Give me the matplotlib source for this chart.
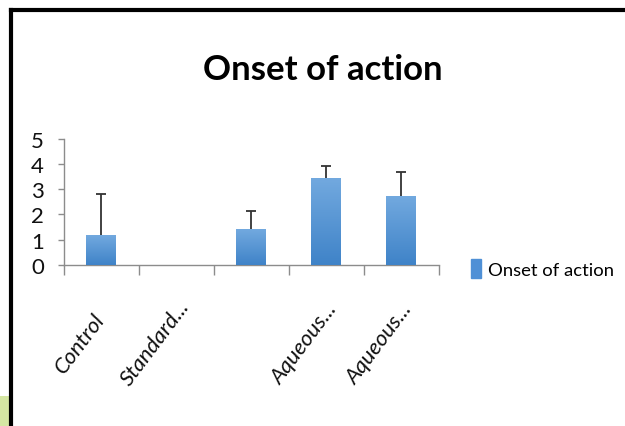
import numpy as np
import matplotlib
matplotlib.use("Agg")
import matplotlib.pyplot as plt
from matplotlib.lines import Line2D
from matplotlib.patches import Rectangle
from matplotlib.transforms import ScaledTranslation

plt.rcParams['font.family'] = ['Lato', 'DejaVu Sans']

# data
categories = ["Control", "Standard...", "", "Aqueous...", "Aqueous..."]
onset = [1.17, 0, 1.41, 3.44, 2.74]
onset_err = [1.66, 0, 0.73, 0.50, 0.93]
y_ticks = [0, 1, 2, 3, 4, 5]
series_name = "Onset of action"

# colours
bar_top = "#72a9df"
bar_bottom = "#3f83c8"
axis_grey = "#8c8c8c"
err_col = "#333333"

fig = plt.figure(figsize=(6.25, 4.27), dpi=100)
ax = fig.add_axes([0.1016, 0.3778, 0.6, 0.2944])

x = np.arange(len(categories))
bars = ax.bar(x, onset, width=0.4, color=bar_bottom, zorder=2)

# vertical gradient inside each bar
grad = np.linspace(1, 0, 256).reshape(-1, 1)
cmap = matplotlib.colors.LinearSegmentedColormap.from_list("g", [bar_bottom, bar_top])
for b in bars:
    if b.get_height() <= 0:
        continue
    im = ax.imshow(grad, cmap=cmap, aspect='auto', zorder=3,
                   extent=[b.get_x(), b.get_x() + b.get_width(), 0, b.get_height()])
    im.set_clip_path(b)

# upper error bars only, skip the empty one
err = np.array(onset_err)
vals = np.array(onset)
mask = err > 0
eb = ax.errorbar(x[mask], vals[mask], yerr=[np.zeros(mask.sum()), err[mask]],
                 fmt='none', ecolor=err_col, elinewidth=1.3, capsize=3.8, capthick=1.3, zorder=4)
# hide the cap sitting on the bar top
for cap in eb[1]:
    if np.allclose(cap.get_ydata(), vals[mask]):
        cap.set_visible(False)

ax.set_xlim(-0.5, len(categories) - 0.5)
ax.set_ylim(0, 5)
ax.set_yticks(y_ticks)
ax.set_yticklabels([str(t) for t in y_ticks])

for s in ['top', 'right']:
    ax.spines[s].set_visible(False)
for s in ['left', 'bottom']:
    ax.spines[s].set_color(axis_grey)
    ax.spines[s].set_linewidth(1)

ax.tick_params(axis='y', direction='out', length=4, width=1, color=axis_grey,
               pad=10, labelsize=16, labelcolor='#111111')

# category boundaries get the tick marks, labels sit at the centres
ax.set_xticks(x)
ax.set_xticks(np.arange(len(categories) + 1) - 0.5, minor=True)
ax.tick_params(axis='x', which='major', length=0, pad=0)
ax.tick_params(axis='x', which='minor', direction='out', length=7, width=1, color=axis_grey)
ax.set_xticklabels(categories, rotation=53, ha='center', va='center',
                   rotation_mode='anchor', fontsize=16, style='italic', color='#111111')
offset = ScaledTranslation(-21 / 100, -78 / 100, fig.dpi_scale_trans)
for lab in ax.get_xticklabels():
    lab.set_transform(lab.get_transform() + offset)

# title
fig.text(0.516, 0.835, "Onset of action", ha='center', va='center',
         fontsize=25, fontweight='bold', color='black')

# legend
ax.legend([Rectangle((0, 0), 1, 1, color="#4f90d6")], [series_name],
          loc='center left', bbox_to_anchor=(0.753, 0.368), bbox_transform=fig.transFigure,
          frameon=False, fontsize=13.3, handlelength=0.55, handleheight=1.2,
          handletextpad=0.4, borderpad=0, borderaxespad=0)

# slide frame
fig.add_artist(Line2D([0.0176, 1.0], [0.9742, 0.9742], transform=fig.transFigure,
                      color='black', linewidth=3))
fig.add_artist(Line2D([0.0176, 0.0176], [0.0, 0.9742], transform=fig.transFigure,
                      color='black', linewidth=3))
fig.add_artist(Rectangle((0, 0), 0.0144, 0.07, transform=fig.transFigure,
                         color='#d5e6a3', linewidth=0))

fig.savefig("out.png", dpi=100)
